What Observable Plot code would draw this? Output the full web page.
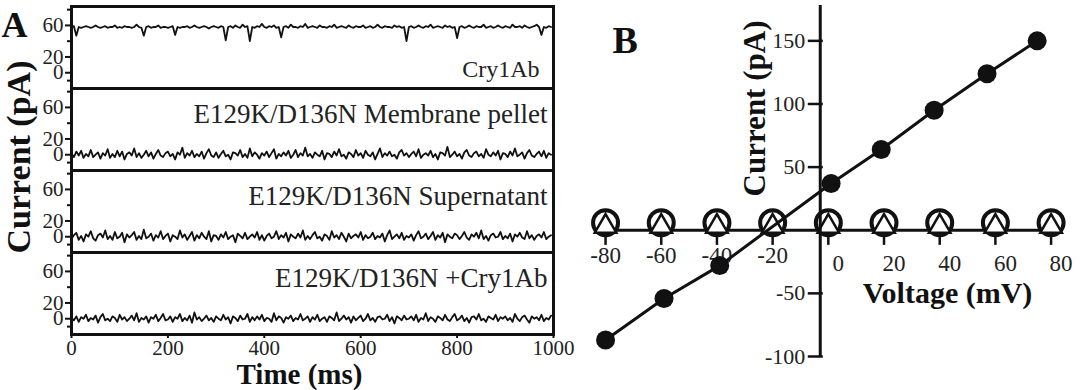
<!DOCTYPE html>
<html><head><meta charset="utf-8">
<script src="https://cdn.jsdelivr.net/npm/d3@7"></script>
<script src="https://cdn.jsdelivr.net/npm/@observablehq/plot@0.6"></script>
<style>
html,body{margin:0;padding:0;background:#fff;}
#wrap{position:relative;width:1092px;height:390px;overflow:hidden;background:#fff;}
#a{position:absolute;left:0;top:0;}
#b{position:absolute;left:580px;top:0;}
#wrap svg, #wrap svg text{font-family:'Liberation Serif','Times New Roman',Times,serif;}
</style></head>
<body><div id="wrap"><div id="a"></div><div id="b"></div></div>
<script>
// ---------- Panel A data ----------
const panels = ["Cry1Ab", "E129K/D136N Membrane pellet", "E129K/D136N Supernatant", "E129K/D136N +Cry1Ab"];
const sampleStepMs = 5;
const traceCry1Ab = [
58,59,47,58,57,58,59,58,57,58,60,58,57,58,59,57,58,58,60,57,
58,57,59,58,58,57,58,61,58,57,47,58,59,57,58,58,60,57,58,58,
57,58,59,48,58,57,58,58,59,57,58,60,58,57,58,59,58,56,58,59,
58,57,59,58,41,58,59,57,60,58,57,61,58,59,40,58,57,59,58,62,
58,57,59,58,60,57,58,45,58,59,57,61,58,58,57,59,58,62,57,58,
59,58,57,60,58,58,57,59,58,61,57,58,59,58,57,60,58,57,59,58,
58,60,57,58,59,57,58,61,58,57,59,58,58,57,60,58,59,57,58,40,
58,59,57,58,60,58,57,59,58,61,57,58,59,58,57,60,58,59,57,58,
44,58,59,57,58,60,58,57,59,58,58,61,57,58,59,57,58,60,58,57,
59,58,57,61,58,58,59,57,60,58,57,58,59,61,58,48,58,57,59,58];
const tracePellet = [
2,-3,4,-1,5,-4,1,-2,6,-3,0,3,-5,2,-1,7,-4,1,-3,5,
-2,4,-6,1,3,-1,8,-3,2,-4,0,5,-2,3,-5,1,6,-1,-3,2,
4,-2,1,-6,3,0,9,-4,2,-1,5,-3,1,-2,4,-5,2,7,-1,-3,
3,-4,1,5,-2,0,-6,3,2,-1,6,-3,1,-4,8,-2,3,0,-5,2,
-1,4,-3,2,7,-5,1,-2,3,-1,5,-4,0,6,-3,2,-1,9,-2,1,
-4,3,0,-2,5,-6,2,1,-3,4,-1,7,-2,0,-5,3,1,-3,6,-1,
2,-4,5,0,-2,3,-6,1,8,-3,2,-1,4,-2,0,-5,3,6,-1,2,
-3,1,4,-2,7,-4,0,2,-1,5,-3,1,-6,3,2,-1,10,-3,0,4,
-2,1,-5,3,6,-1,-3,2,4,-2,1,-4,7,0,-2,3,-1,5,-6,2,
1,-3,4,-1,8,-2,0,3,-5,2,6,-1,-3,1,4,-2,5,-4,2,0];
const traceSupernatant = [
-3,2,5,-4,1,-6,3,0,7,-2,-5,2,4,-1,8,-3,1,-4,6,-2,
0,5,-7,3,-1,2,6,-4,1,-3,9,-2,0,4,-5,2,-1,7,-3,1,
4,-6,2,0,-3,8,-1,3,-4,1,6,-5,2,-2,5,0,-3,7,-6,2,
1,-4,3,-1,6,-3,0,2,-7,4,1,-2,5,-3,0,3,-1,6,-4,2,
-5,1,4,-2,0,7,-3,2,-1,5,-6,3,0,-2,4,-1,8,-4,1,-3,
2,6,-2,0,-5,3,1,-4,7,-1,2,-3,5,0,-6,4,-2,1,3,-1,
6,-4,2,-2,0,5,-3,1,-1,4,-6,2,8,-3,0,3,-2,5,-4,1,
-1,3,-5,2,7,-2,0,4,-3,1,6,-4,2,-1,5,-7,3,0,-2,4,
2,-3,1,6,-1,-4,3,0,5,-2,8,-3,1,-5,2,4,-1,0,6,-3,
1,-2,4,-6,3,0,5,-1,-3,7,-2,2,-4,1,3,-1,6,-3,0,2];
const tracePlusCry1Ab = [
1,-2,3,-4,2,0,5,-3,1,-1,4,-5,2,6,-2,0,-3,3,1,-4,
5,-1,2,-3,0,4,-2,7,-4,1,-1,3,-5,2,0,5,-3,1,6,-2,
-1,3,-4,2,0,6,-3,1,-2,4,-5,8,-1,2,-3,0,4,-2,1,-4,
3,0,-2,5,-1,2,-6,3,1,-3,4,-1,0,6,-4,2,-2,3,-1,5,
-3,1,0,-4,7,-2,3,1,-5,2,0,4,-3,1,-1,6,-2,0,3,-4,
2,-1,5,-3,0,2,-4,3,1,-2,8,-3,0,4,-1,2,-5,3,-2,1,
4,-3,0,6,-2,1,-4,2,3,-1,0,5,-3,2,-6,3,1,-2,4,-1,
0,3,-2,5,-4,1,-1,7,-3,2,0,-4,3,1,-2,5,-1,-3,2,6,
-2,0,4,-3,1,-5,2,3,-1,6,-2,0,-4,3,1,-1,5,-3,2,0,
3,-2,1,-4,6,0,-3,2,4,-1,-5,3,0,2,-2,5,-3,1,-1,4];
const timeTicks = [0, 200, 400, 600, 800, 1000];
const currentTicksA = [0, 20, 60];
const currentMinorTicksA = [-10, 40, 80];
const titleA = "A";
const yLabelA = "Current (pA)";
const xLabelA = "Time (ms)";

// ---------- Panel B data ----------
const voltageTicks = [-80, -60, -40, -20, 0, 20, 40, 60, 80];
const currentTicksB = [-100, -50, 50, 100, 150];
const wtVoltage = [-80, -59, -39, 1, 19, 38, 57, 75];
const wtCurrent = [-87, -54, -28, 37, 64, 95, 124, 150];
const mutVoltage = [-80, -60, -40, -20, 0, 20, 40, 60, 80];
const mutCircleCurrent = [6, 6, 6, 6, 6, 6, 6, 6, 6];
const mutTriangleCurrent = [3, 3, 3, 3, 3, 3, 3, 3, 3];
const titleB = "B";
const yLabelB = "Current (pA)";
const xLabelB = "Voltage (mV)";
const yAxisAtVoltage = -2.9;

const serif = "'Liberation Serif','Times New Roman',Times,serif";
const ink = "#111";

// ---------- Panel A ----------
const traces = [traceCry1Ab, tracePellet, traceSupernatant, tracePlusCry1Ab];
const rowsA = traces.flatMap((arr, k) => arr.map((v, i) => ({panel: panels[k], t: i * sampleStepMs, v})));

const plotA = Plot.plot({
  width: 580, height: 390,
  marginLeft: 71, marginRight: 27, marginTop: 4, marginBottom: 55,
  style: {fontFamily: serif, background: "transparent", color: ink, overflow: "visible"},
  x: {domain: [0, 1000]},
  y: {domain: [-20, 84]},
  fy: {domain: panels, padding: 0, axis: null},
  marks: [
    Plot.line(rowsA, {x: "t", y: "v", fy: "panel", stroke: ink, strokeWidth: 1.8}),
    Plot.frame({stroke: ink, strokeWidth: 3}),
    Plot.axisY({ticks: currentTicksA, tickSize: 6, tickPadding: 2, fontSize: 21, label: null, strokeWidth: 2, fill: "#222", tickFormat: d => String(d)}),
    Plot.axisY({ticks: currentMinorTicksA, tickSize: 4, tickFormat: () => "", label: null, strokeWidth: 2}),
    Plot.axisX({ticks: timeTicks, tickSize: 4, tickPadding: 2, fontSize: 21, label: null, strokeWidth: 2, fill: "#222", tickFormat: d => String(d)}),
    Plot.text([{panel: panels[0]}], {fy: "panel", text: "panel", frameAnchor: "bottom-right", textAnchor: "end", lineAnchor: "bottom", dx: -14, dy: -12, fontSize: 24, fill: "#222"}),
    Plot.text(panels.slice(1).map(p => ({panel: p})), {fy: "panel", text: "panel", frameAnchor: "top-right", textAnchor: "end", lineAnchor: "bottom", dx: -6, dy: 34, fontSize: 27, fill: "#222"}),
    Plot.text([{panel: panels[0], label: titleA}], {fy: "panel", text: "label", frameAnchor: "top-left", textAnchor: "start", lineAnchor: "bottom", dx: -70, dy: 30, fontSize: 36, fontWeight: "bold", fill: ink}),
    Plot.text([{panel: panels[1], label: yLabelA}], {fy: "panel", text: "label", frameAnchor: "bottom-left", rotate: -90, textAnchor: "middle", lineAnchor: "middle", dx: -52, dy: -13.5, fontSize: 34, fontWeight: "bold", fill: ink}),
    Plot.text([{panel: panels[3], label: xLabelA}], {fy: "panel", text: "label", frameAnchor: "bottom", textAnchor: "middle", lineAnchor: "bottom", dx: -13, dy: 49, fontSize: 29, fontWeight: "bold", fill: ink})
  ]
});
document.getElementById("a").appendChild(plotA);

// ---------- Panel B ----------
const wt = wtVoltage.map((v, i) => ({v, c: wtCurrent[i]}));
const mut = mutVoltage.map((v, i) => ({v, c: mutCircleCurrent[i], t: mutTriangleCurrent[i]}));

const plotB = Plot.plot({
  width: 512, height: 390,
  marginLeft: 0, marginRight: 8, marginTop: 5, marginBottom: 34,
  style: {fontFamily: serif, background: "transparent", color: ink, overflow: "visible"},
  x: {domain: [-89, 92], axis: null},
  y: {domain: [-100, 178], axis: null},
  marks: [
    Plot.ruleY([0], {x1: -84, x2: 84, stroke: ink, strokeWidth: 3}),
    Plot.ruleX(voltageTicks, {y1: 0, y2: -12, stroke: ink, strokeWidth: 2.5}),
    Plot.text(voltageTicks.filter(v => v < 0), {x: d => d, y: 0, text: d => String(d), dy: 25, fontSize: 23, fill: "#222"}),
    Plot.text(voltageTicks.filter(v => v >= 0), {x: d => d, y: 0, text: d => String(d), dx: 10, dy: 33, fontSize: 23, fill: "#222"}),
    Plot.dot(mut, {x: "v", y: "c", r: 12.5, stroke: ink, strokeWidth: 4, fill: "white"}),
    Plot.dot(mut, {x: "v", y: "t", symbol: "triangle", r: 8, stroke: ink, strokeWidth: 2.5, fill: "white"}),
    Plot.line(wt, {x: "v", y: "c", stroke: ink, strokeWidth: 3}),
    Plot.dot(wt, {x: "v", y: "c", r: 9.5, fill: ink, stroke: "none"}),
    Plot.ruleX([yAxisAtVoltage], {stroke: ink, strokeWidth: 3}),
    Plot.ruleY(currentTicksB, {x1: yAxisAtVoltage - 4.3, x2: yAxisAtVoltage + 1.1, stroke: ink, strokeWidth: 2.5}),
    Plot.text(currentTicksB, {x: yAxisAtVoltage, y: d => d, text: d => String(d), textAnchor: "end", dx: -15, fontSize: 22, fill: "#222"}),
    Plot.text([yLabelB], {frameAnchor: "top-left", text: d => d, rotate: -90, textAnchor: "middle", lineAnchor: "middle", dx: 175, dy: 103, fontSize: 31, fontWeight: "bold", fill: ink}),
    Plot.text([xLabelB], {frameAnchor: "top-left", text: d => d, textAnchor: "middle", lineAnchor: "bottom", dx: 367, dy: 297, fontSize: 30, fontWeight: "bold", fill: ink}),
    Plot.text([titleB], {frameAnchor: "top-left", text: d => d, textAnchor: "start", lineAnchor: "bottom", dx: 32, dy: 47, fontSize: 38, fontWeight: "bold", fill: ink})
  ]
});
document.getElementById("b").appendChild(plotB);
</script>
</body></html>
